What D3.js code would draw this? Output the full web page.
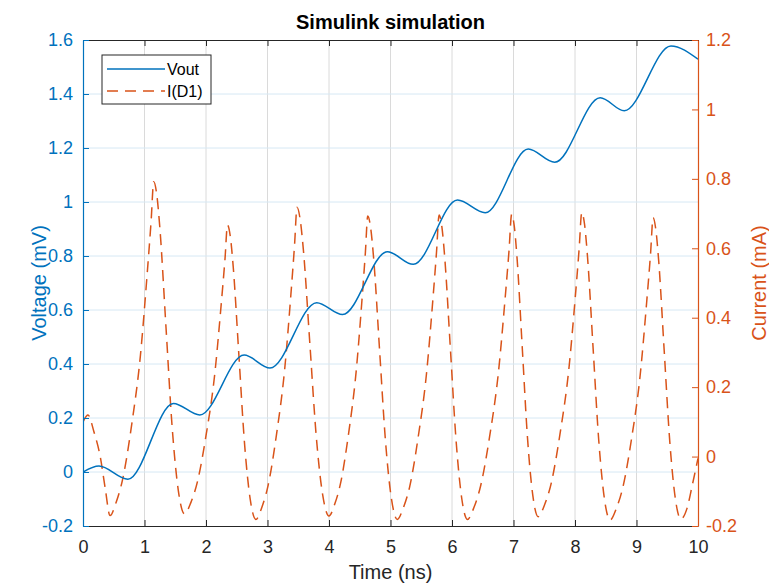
<!DOCTYPE html>
<html lang="en">
<head>
    <meta charset="utf-8">
    <title>Simulink simulation</title>
    <script src="https://cdn.jsdelivr.net/npm/d3@7"></script>
    <style>
        body { margin: 0; background: #fff; }
        svg { font-family: "Liberation Sans", Arial, sans-serif; }
    </style>
</head>
<body>
    <svg id="chart" width="769" height="587"></svg>

    <script>
        // Vout (mV) – read at the extrema of the curve
        const voutTime = [0, 0.26, 0.73, 1.47, 1.90, 2.62, 3.04, 3.80, 4.22, 4.95,
                          5.37, 6.09, 6.54, 7.24, 7.67, 8.41, 8.80, 9.56, 10];
        const voutValue = [0, 0.022, -0.027, 0.254, 0.211, 0.433, 0.385, 0.627, 0.583, 0.816,
                           0.769, 1.007, 0.960, 1.196, 1.147, 1.386, 1.338, 1.578, 1.529];

        // I(D1) (mA)
        const idTime = [0, 0.08, 0.18, 0.28, 0.36, 0.44,
            0.538, 0.646, 0.79, 0.934, 1.042, 1.107, 1.15, 1.20, 1.25, 1.35, 1.45, 1.55, 1.65,
            1.755, 1.86, 2.00, 2.14, 2.245, 2.308, 2.35, 2.396, 2.442, 2.534, 2.626, 2.718, 2.81,
            2.91, 3.011, 3.145, 3.279, 3.38, 3.44, 3.48, 3.532, 3.584, 3.688, 3.792, 3.896, 4.00,
            4.095, 4.189, 4.315, 4.441, 4.536, 4.592, 4.63, 4.678, 4.726, 4.822, 4.918, 5.014, 5.11,
            5.212, 5.314, 5.45, 5.586, 5.688, 5.749, 5.79, 5.836, 5.882, 5.974, 6.066, 6.158, 6.25,
            6.358, 6.466, 6.61, 6.754, 6.862, 6.927, 6.97, 7.013, 7.056, 7.142, 7.228, 7.314, 7.40,
            7.507, 7.613, 7.755, 7.897, 8.004, 8.067, 8.11, 8.156, 8.202, 8.294, 8.386, 8.478, 8.57,
            8.675, 8.78, 8.92, 9.06, 9.165, 9.228, 9.27, 9.315, 9.36, 9.45, 9.54, 9.63, 9.72,
            9.82, 9.91, 10];
        const idValue = [0.10, 0.12, 0.07, 0.0, -0.09, -0.170,
            -0.132, -0.064, 0.090, 0.292, 0.523, 0.677, 0.792, 0.754, 0.658, 0.371, 0.084, -0.098, -0.165,
            -0.132, -0.073, 0.060, 0.234, 0.434, 0.567, 0.667, 0.633, 0.548, 0.294, 0.039, -0.122, -0.181,
            -0.145, -0.082, 0.062, 0.251, 0.466, 0.610, 0.718, 0.682, 0.594, 0.327, 0.060, -0.109, -0.171,
            -0.136, -0.076, 0.062, 0.244, 0.451, 0.589, 0.693, 0.658, 0.571, 0.308, 0.046, -0.120, -0.181,
            -0.146, -0.085, 0.056, 0.240, 0.450, 0.591, 0.696, 0.661, 0.573, 0.310, 0.047, -0.120, -0.181,
            -0.146, -0.084, 0.056, 0.241, 0.452, 0.593, 0.698, 0.663, 0.576, 0.315, 0.053, -0.112, -0.173,
            -0.138, -0.077, 0.064, 0.247, 0.458, 0.598, 0.703, 0.668, 0.579, 0.313, 0.047, -0.121, -0.183,
            -0.148, -0.087, 0.052, 0.235, 0.444, 0.583, 0.688, 0.653, 0.566, 0.306, 0.046, -0.119, -0.180,
            -0.15, -0.08, -0.005];

        const xTicks = d3.range(0, 11, 1);
        const leftTicks = [-0.2, 0, 0.2, 0.4, 0.6, 0.8, 1, 1.2, 1.4, 1.6];
        const rightTicks = [-0.2, 0, 0.2, 0.4, 0.6, 0.8, 1, 1.2];

        const blue = "#0072BD";
        const orange = "#D95319";
        const dark = "#262626";

        const margin = { left: 83, right: 698, top: 40, bottom: 526 };
        const svg = d3.select("#chart");

        const x = d3.scaleLinear().domain([0, 10]).range([margin.left, margin.right]);
        const yL = d3.scaleLinear().domain([-0.2, 1.6]).range([margin.bottom, margin.top]);
        const yR = d3.scaleLinear().domain([-0.2, 1.2]).range([margin.bottom, margin.top]);
        const w = margin.right - margin.left;
        const h = margin.bottom - margin.top;

        // grid
        svg.append("g")
            .selectAll("line")
            .data(xTicks.slice(1, -1))
            .enter().append("line")
            .attr("x1", d => x(d)).attr("x2", d => x(d))
            .attr("y1", margin.top).attr("y2", margin.bottom)
            .attr("stroke", "#dadada").attr("stroke-width", 1);

        svg.append("g")
            .selectAll("line")
            .data(leftTicks.slice(1, -1))
            .enter().append("line")
            .attr("x1", margin.left).attr("x2", margin.right)
            .attr("y1", d => yL(d)).attr("y2", d => yL(d))
            .attr("stroke", "#d6e8f4").attr("stroke-width", 1);

        svg.append("defs").append("clipPath").attr("id", "clip")
            .append("rect").attr("x", margin.left).attr("y", margin.top)
            .attr("width", w).attr("height", h);

        // lines
        const vLine = d3.line()
            .x((d, i) => x(voutTime[i]))
            .y(d => yL(d))
            .curve(d3.curveMonotoneX);

        const iLine = d3.line()
            .x((d, i) => x(idTime[i]))
            .y(d => yR(d))
            .curve(d3.curveMonotoneX);

        svg.append("path")
            .attr("clip-path", "url(#clip)")
            .attr("d", iLine(idValue))
            .attr("fill", "none")
            .attr("stroke", orange)
            .attr("stroke-width", 1.5)
            .attr("stroke-dasharray", "11,7");

        svg.append("path")
            .attr("clip-path", "url(#clip)")
            .attr("d", vLine(voutValue))
            .attr("fill", "none")
            .attr("stroke", blue)
            .attr("stroke-width", 1.5);

        // axes
        const fmt = d => String(+d.toFixed(1));
        const bottomAxis = d3.axisBottom(x).tickValues(xTicks).tickSizeInner(-6).tickSizeOuter(0).tickPadding(14);
        const topAxis = d3.axisTop(x).tickValues(xTicks).tickSizeInner(-6).tickSizeOuter(0).tickFormat("");
        const leftAxis = d3.axisLeft(yL).tickValues(leftTicks).tickSizeInner(-6).tickSizeOuter(0).tickPadding(10).tickFormat(fmt);
        const rightAxis = d3.axisRight(yR).tickValues(rightTicks).tickSizeInner(-6).tickSizeOuter(0).tickPadding(8).tickFormat(fmt);

        function style(g, color) {
            g.select(".domain").attr("stroke", color).attr("stroke-width", 1.2);
            g.selectAll(".tick line").attr("stroke", color);
            g.selectAll(".tick text").attr("fill", color).attr("font-size", 18)
                .attr("font-family", "Liberation Sans, Arial, sans-serif");
        }

        svg.append("g").attr("transform", `translate(0,${margin.top})`).call(topAxis).call(g => style(g, dark));
        svg.append("g").attr("transform", `translate(0,${margin.bottom})`).call(bottomAxis).call(g => style(g, dark));
        svg.append("g").attr("transform", `translate(${margin.left},0)`).call(leftAxis).call(g => style(g, blue));
        svg.append("g").attr("transform", `translate(${margin.right},0)`).call(rightAxis).call(g => style(g, orange));

        // labels
        svg.append("text")
            .attr("x", (margin.left + margin.right) / 2).attr("y", 29)
            .attr("text-anchor", "middle").attr("font-size", 20).attr("font-weight", "bold")
            .attr("fill", "#000").text("Simulink simulation");

        svg.append("text")
            .attr("x", (margin.left + margin.right) / 2).attr("y", 579)
            .attr("text-anchor", "middle").attr("font-size", 20)
            .attr("fill", dark).text("Time (ns)");

        svg.append("text")
            .attr("transform", `translate(46,${(margin.top + margin.bottom) / 2}) rotate(-90)`)
            .attr("text-anchor", "middle").attr("font-size", 20)
            .attr("fill", blue).text("Voltage (mV)");

        svg.append("text")
            .attr("transform", `translate(766,${(margin.top + margin.bottom) / 2}) rotate(-90)`)
            .attr("text-anchor", "middle").attr("font-size", 20)
            .attr("fill", orange).text("Current (mA)");

        // legend
        const legend = svg.append("g");
        legend.append("rect")
            .attr("x", 102).attr("y", 55).attr("width", 109).attr("height", 49)
            .attr("fill", "#fff").attr("stroke", dark).attr("stroke-width", 1);

        const legendItems = [
            { name: "Vout", color: blue, dash: null },
            { name: "I(D1)", color: orange, dash: "11,7" }
        ];
        legendItems.forEach((d, i) => {
            const yy = 69 + i * 22;
            legend.append("line")
                .attr("x1", 107).attr("x2", 165).attr("y1", yy).attr("y2", yy)
                .attr("stroke", d.color).attr("stroke-width", 1.5)
                .attr("stroke-dasharray", d.dash);
            legend.append("text")
                .attr("x", 167).attr("y", yy + 6)
                .attr("font-size", 16).attr("fill", "#000").text(d.name);
        });
    </script>
</body>
</html>
